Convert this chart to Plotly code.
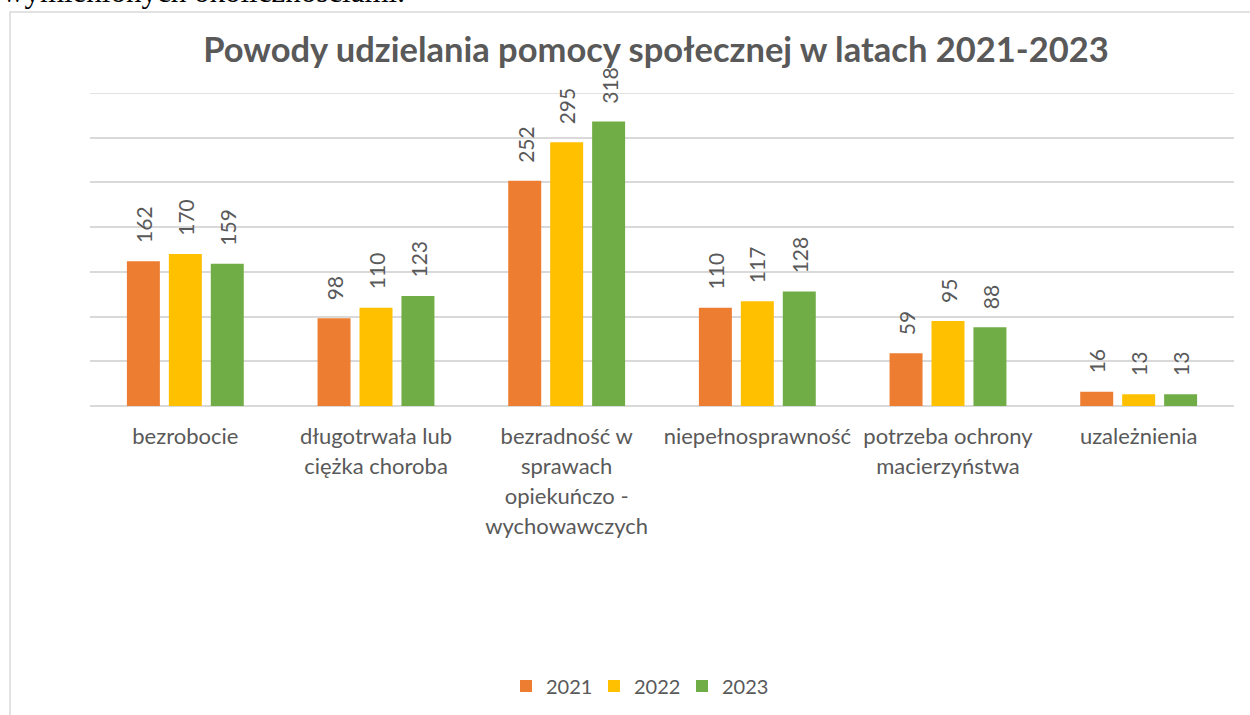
import plotly.graph_objects as go

categories = ["bezrobocie", "długotrwała lub<br>ciężka choroba",
              "bezradność w<br>sprawach<br>opiekuńczo -<br>wychowawczych",
              "niepełnosprawność", "potrzeba ochrony<br>macierzyństwa", "uzależnienia"]
years = ["2021", "2022", "2023"]
v2021 = [162, 98, 252, 110, 59, 16]
v2022 = [170, 110, 295, 117, 95, 13]
v2023 = [159, 123, 318, 128, 88, 13]
colors = ["#ED7D31", "#FFC000", "#70AD47"]
series = [v2021, v2022, v2023]
y_max = 350

W, H = 1250, 715
L, R, T, B = 90, 16, 93, 309
PW, PH = W - L - R, H - T - B

def px_x(p):
    return (p - L) / PW

def px_y(p):
    return (H - B - p) / PH

GRAY = "#595959"
GRID = "#D9D9D9"
FONT = "Lato"

fig = go.Figure()
xs = list(range(len(categories)))
for name, vals, col in zip(years, series, colors):
    fig.add_trace(go.Bar(x=xs, y=vals, name=name, marker=dict(color=col, line=dict(width=0)),
                         hoverinfo="skip"))

ann = []
for j, vals in enumerate(series):
    for i, v in enumerate(vals):
        ann.append(dict(x=i, y=v, xref="x", yref="y", text=str(v), showarrow=False,
                        textangle=-90, xanchor="center", yanchor="bottom",
                        xshift=(j - 1) * 42, yshift=16,
                        font=dict(family=FONT, size=21, color=GRAY)))

ann.append(dict(x=px_x(0), y=px_y(11), xref="paper", yref="paper",
                text="wymienionych okolicznościami.", showarrow=False,
                xanchor="left", yanchor="bottom",
                font=dict(family="Liberation Serif", size=31, color="black")))

ticktext = ["<br>".join('<span style="font-size:22px">%s</span>' % ln for ln in c.split("<br>"))
            for c in categories]

fig.update_layout(
    width=W, height=H,
    margin=dict(l=L, r=R, t=T, b=B, autoexpand=False),
    paper_bgcolor="white", plot_bgcolor="white",
    barmode="group", bargap=0.34, bargroupgap=0.214,
    title=dict(text="<b>Powody udzielania pomocy społecznej w latach 2021-2023</b>",
               x=656 / W, xanchor="center", xref="container",
               y=1 - 50 / H, yanchor="middle", yref="container",
               font=dict(family=FONT, size=34.5, color=GRAY)),
    xaxis=dict(tickmode="array", tickvals=xs, ticktext=ticktext,
               tickfont=dict(family=FONT, size=23, color=GRAY),
               showgrid=False, showline=False, ticks="", ticklabelstandoff=14,
               range=[-0.5, 5.5]),
    yaxis=dict(range=[0, y_max], dtick=50, showticklabels=False, showgrid=True,
               gridcolor=GRID, gridwidth=1.5, zeroline=True,
               zerolinecolor=GRID, zerolinewidth=1.5),
    legend=dict(orientation="h", x=px_x(638), y=px_y(686), xanchor="center",
                yanchor="middle", font=dict(family=FONT, size=20, color=GRAY),
                itemwidth=30, traceorder="normal", entrywidth=43),
    annotations=ann,
    shapes=[dict(type="rect", xref="paper", yref="paper",
                 x0=px_x(10), x1=px_x(1260), y0=px_y(730), y1=px_y(12),
                 line=dict(color=GRID, width=1.5), layer="below"),
            dict(type="line", xref="paper", yref="y", x0=0, x1=1, y0=y_max, y1=y_max,
                 line=dict(color=GRID, width=1.5), layer="below")],
    showlegend=True,
)

fig.write_html("out.html", config={"displayModeBar": False},
               post_script="document.body.style.margin='0';")
